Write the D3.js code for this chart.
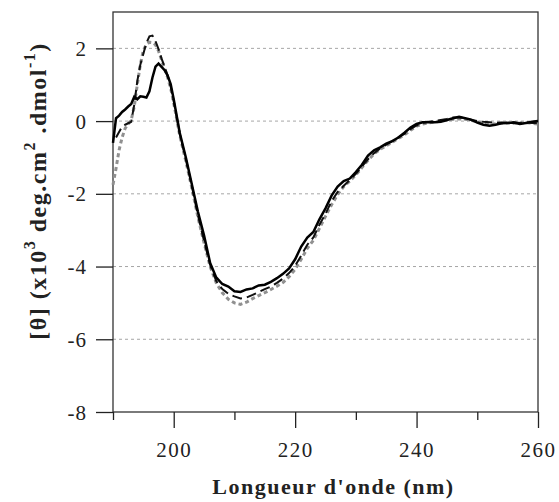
<!DOCTYPE html>
<html><head><meta charset="utf-8">
<script src="https://cdn.jsdelivr.net/npm/d3@7"></script>
<style>
html,body{margin:0;padding:0;background:#fff;}
text{font-family:"Liberation Serif","Times New Roman",serif;}
</style></head>
<body>
<svg id="c" width="559" height="502"></svg>
<script>
const wavelengths = [190,190.5,191,191.5,192,192.5,193,193.5,194,194.5,195,195.5,196,196.5,197,197.5,198,198.5,199,199.5,200,
201,202,203,204,205,206,207,208,209,210,211,212,213,214,215,216,217,218,219,220,
221,222,223,224,225,226,227,228,229,230,231,232,233,234,235,236,237,238,239,240,
241,242,243,244,245,246,247,248,249,250,251,252,253,254,255,256,257,258,259,260];
const solidSeries = [-0.6,0.08,0.15,0.25,0.32,0.4,0.47,0.67,0.6,0.68,0.67,0.65,0.82,1.2,1.5,1.58,1.49,1.4,1.25,1.02,0.6,
-0.33,-1.0,-1.75,-2.5,-3.15,-3.9,-4.3,-4.48,-4.55,-4.68,-4.7,-4.63,-4.6,-4.52,-4.5,-4.42,-4.32,-4.2,-4.05,-3.8,
-3.45,-3.2,-3.05,-2.7,-2.4,-2.05,-1.8,-1.65,-1.58,-1.4,-1.2,-0.95,-0.8,-0.72,-0.62,-0.55,-0.45,-0.32,-0.18,-0.08,
-0.03,-0.03,-0.03,-0.02,0.03,0.08,0.12,0.08,0.04,-0.04,-0.1,-0.13,-0.1,-0.06,-0.05,-0.04,-0.08,-0.05,-0.02,0.0];
const dashedSeries = [null,-0.45,-0.3,-0.15,-0.1,-0.06,-0.02,0.45,1.1,1.55,1.85,2.15,2.33,2.35,2.2,1.98,1.72,1.5,1.25,0.95,0.55,
-0.35,-1.05,-1.8,-2.6,-3.3,-3.95,-4.4,-4.62,-4.75,-4.82,-4.88,-4.85,-4.78,-4.7,-4.62,-4.55,-4.45,-4.33,-4.18,-3.98,
-3.7,-3.4,-3.2,-2.85,-2.55,-2.2,-1.95,-1.78,-1.62,-1.45,-1.25,-1.05,-0.88,-0.75,-0.65,-0.55,-0.45,-0.35,-0.22,-0.12,
-0.05,-0.02,0.0,0.03,0.06,0.1,0.1,0.08,0.03,0.0,-0.02,-0.03,-0.05,-0.04,-0.05,-0.03,-0.05,-0.04,-0.05,-0.05];
const greySeries = [-1.75,-1.3,-0.8,-0.45,-0.2,-0.08,0.03,0.4,1.0,1.55,1.95,2.1,2.17,2.16,2.1,1.93,1.68,1.44,1.2,0.9,0.5,
-0.4,-1.1,-1.85,-2.65,-3.35,-4.0,-4.45,-4.72,-4.9,-5.0,-5.04,-4.98,-4.88,-4.8,-4.72,-4.63,-4.54,-4.44,-4.28,-4.08,
-3.8,-3.5,-3.28,-2.95,-2.62,-2.3,-2.02,-1.8,-1.65,-1.48,-1.28,-1.08,-0.9,-0.78,-0.68,-0.58,-0.48,-0.38,-0.25,-0.14,
-0.08,-0.05,-0.03,0.0,0.02,0.05,0.06,0.05,0.02,-0.02,-0.05,-0.07,-0.08,-0.06,-0.05,-0.06,-0.05,-0.04,-0.06,-0.08];
const xMajorTicks = [200,220,240,260];
const xMinorTicks = [190,210,230,250];
const yTicks = [2,0,-2,-4,-6,-8];
const yGrid = [2,0,-2,-4,-6];

const svg = d3.select("#c");
const L=113, R=538, T=12, B=412;
const x = d3.scaleLinear().domain([190,260]).range([L,R]);
const y = d3.scaleLinear().domain([-8,3]).range([B,T]);
const fmt = d => String(d);

// grid
svg.append("g").selectAll("line").data(yGrid).join("line")
  .attr("x1",L).attr("x2",R).attr("y1",d=>y(d)).attr("y2",d=>y(d))
  .attr("stroke","#a6a6a6").attr("stroke-width",1).attr("stroke-dasharray","3,3");

// frame
svg.append("rect").attr("x",L).attr("y",T).attr("width",R-L).attr("height",B-T)
  .attr("fill","none").attr("stroke","#333").attr("stroke-width",1.3);

// y axis
const yAxis = d3.axisLeft(y).tickValues(yTicks).tickSize(17).tickPadding(9).tickFormat(fmt);
const gy = svg.append("g").attr("transform",`translate(${L},0)`).call(yAxis);
gy.select(".domain").remove();
gy.selectAll("line").attr("stroke","#222").attr("stroke-width",1.3);
gy.selectAll("text").style("font-size","21px").style("letter-spacing","1px").attr("fill","#222").attr("dy","0.34em");

// x axis
const xAxis = d3.axisBottom(x).tickValues(xMajorTicks).tickSize(16).tickPadding(14).tickFormat(fmt);
const gx = svg.append("g").attr("transform",`translate(0,${B})`).call(xAxis);
gx.select(".domain").remove();
gx.selectAll("line").attr("stroke","#222").attr("stroke-width",1.3);
gx.selectAll("text").style("font-size","21px").style("letter-spacing","1.5px").attr("fill","#222");
const xAxisMinor = d3.axisBottom(x).tickValues(xMinorTicks).tickSize(8).tickFormat("");
const gxm = svg.append("g").attr("transform",`translate(0,${B})`).call(xAxisMinor);
gxm.select(".domain").remove();
gxm.selectAll("line").attr("stroke","#222").attr("stroke-width",1.3);

// lines
const line = vals => d3.line().defined((d,i)=>vals[i]!==null)
  .x((d,i)=>x(wavelengths[i])).y((d,i)=>y(vals[i])).curve(d3.curveLinear)(vals);
const plot = svg.append("g");
plot.append("path").attr("d",line(greySeries)).attr("fill","none")
  .attr("stroke","#909090").attr("stroke-width",3).attr("stroke-dasharray","4,3");
plot.append("path").attr("d",line(dashedSeries)).attr("fill","none")
  .attr("stroke","#111").attr("stroke-width",2).attr("stroke-dasharray","10,5");
plot.append("path").attr("d",line(solidSeries)).attr("fill","none")
  .attr("stroke","#000").attr("stroke-width",2.5);

// x title
svg.append("text").attr("x",(L+R)/2+8).attr("y",494).attr("text-anchor","middle")
  .style("font-size","22px").style("font-weight","bold").style("letter-spacing","1.5px").attr("fill","#222")
  .text("Longueur d'onde (nm)");

// y title
const yt = svg.append("text").attr("transform","translate(46,191) rotate(-90)").attr("text-anchor","middle")
  .style("font-size","24px").style("font-weight","bold").style("letter-spacing","1.5px").attr("fill","#222");
yt.append("tspan").text("[θ] (x10");
yt.append("tspan").attr("dy",-11).style("font-size","16px").text("3");
yt.append("tspan").attr("dy",11).text(" deg.cm");
yt.append("tspan").attr("dy",-11).style("font-size","16px").text("2");
yt.append("tspan").attr("dy",11).text(" .dmol");
yt.append("tspan").attr("dy",-11).style("font-size","16px").text("-1");
yt.append("tspan").attr("dy",11).text(")");
</script>
</body></html>
